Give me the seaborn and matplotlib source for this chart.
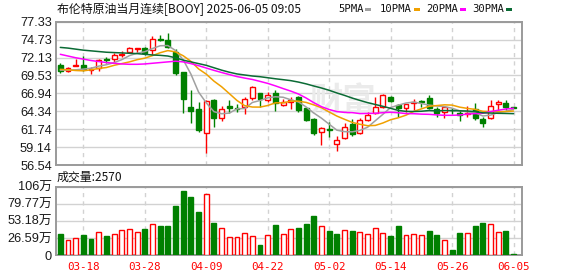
import numpy as np
import pandas as pd
import matplotlib
matplotlib.use("Agg")
import matplotlib.pyplot as plt
from matplotlib.patches import Rectangle
import seaborn as sns

# ---------------- data ----------------
title = "布伦特原油当月连续[BOOY] 2025-06-05 09:05"
vol_title = "成交量:2570"
legend_names = ["5PMA", "10PMA", "20PMA", "30PMA"]
date_ticks = ["03-18", "03-28", "04-09", "04-22", "05-02", "05-14", "05-26", "06-05"]
price_ticks = [77.33, 74.73, 72.13, 69.53, 66.94, 64.34, 61.74, 59.14, 56.54]
vol_tick_vals = [0, 26.59, 53.18, 79.77, 106]
vol_tick_labels = ["0", "26.59万", "53.18万", "79.77万", "106万"]

opens = [71.05, 70.23, 70.93, 71.05, 70.32, 70.57, 71.87, 71.87, 72.50, 72.89,
         73.42, 73.47, 73.22, 74.77, 74.67, 72.89, 70.08, 64.91, 64.66, 61.23,
         65.97, 63.31, 65.05, 64.81, 64.91, 66.21, 66.94, 65.97, 67.04, 65.25,
         65.73, 66.36, 64.86, 63.26, 61.28, 61.81, 59.59, 60.41, 62.49, 61.13,
         63.07, 64.13, 64.91, 66.45, 65.29, 64.76, 65.54, 65.78, 66.21, 64.62,
         64.28, 64.57, 64.04, 63.94, 64.62, 63.26, 63.31, 65.34, 65.49, 64.92]
highs = [71.39, 70.81, 71.87, 72.35, 70.81, 71.92, 72.16, 72.74, 73.08, 73.71,
         73.47, 73.71, 75.28, 75.40, 75.64, 73.32, 70.08, 67.42, 65.73, 65.97,
         66.07, 65.10, 66.00, 65.39, 66.36, 68.00, 67.04, 67.18, 67.42, 66.07,
         66.36, 66.55, 64.95, 63.30, 62.10, 62.83, 60.75, 62.68, 63.17, 63.31,
         64.23, 66.36, 66.84, 66.55, 65.39, 65.45, 66.11, 65.97, 66.70, 64.91,
         65.10, 64.86, 64.52, 65.10, 65.58, 63.55, 65.97, 65.97, 65.97, 64.95]
lows = [69.84, 70.08, 70.85, 70.23, 69.69, 70.23, 71.39, 71.53, 72.16, 72.74,
        72.74, 72.55, 72.50, 74.58, 73.47, 69.60, 64.13, 62.59, 61.38, 58.33,
        62.10, 62.92, 64.04, 64.28, 63.89, 65.97, 65.00, 65.73, 64.42, 65.10,
        64.62, 64.28, 62.97, 60.89, 59.44, 60.65, 58.57, 60.26, 60.75, 61.04,
        62.97, 63.94, 64.76, 65.73, 63.55, 64.28, 64.52, 64.91, 64.62, 63.55,
        63.41, 63.94, 62.97, 63.55, 63.07, 62.10, 63.17, 64.52, 64.52, 64.85]
closes = [70.23, 70.66, 71.00, 70.47, 70.52, 71.73, 71.73, 72.50, 72.64, 73.47,
          73.47, 72.84, 74.77, 74.67, 73.61, 69.84, 66.11, 64.42, 61.62, 65.83,
          63.41, 64.62, 64.86, 64.71, 66.07, 67.81, 66.07, 66.74, 65.49, 65.73,
          65.97, 64.52, 63.07, 61.13, 61.96, 61.62, 60.17, 62.01, 60.99, 63.07,
          63.84, 64.91, 66.70, 65.87, 64.76, 65.39, 65.63, 65.63, 64.76, 64.13,
          64.91, 64.47, 63.75, 64.04, 63.41, 62.58, 65.10, 65.63, 64.91, 64.88]
volumes = [32.9, 23.7, 26.2, 31.4, 25.2, 35.5, 29.8, 32.4, 38.6, 40.1,
           35.5, 40.6, 48.4, 45.3, 45.3, 76.2, 99.3, 90.6, 66.9, 94.7,
           50.4, 41.7, 27.8, 27.8, 34.0, 29.8, 16.0, 31.4, 46.8, 32.9,
           40.1, 42.2, 48.4, 60.7, 44.8, 37.6, 32.9, 38.6, 37.6, 35.5,
           32.9, 41.7, 34.0, 29.8, 45.3, 31.4, 32.9, 31.4, 37.6, 31.4,
           23.2, 8.2, 34.5, 34.5, 45.3, 49.9, 48.4, 36.0, 37.6, 1.5]
vol_up = [0, 1, 1, 0, 0, 1, 0, 1, 1, 1,
          1, 0, 1, 0, 0, 0, 0, 0, 0, 1,
          0, 1, 1, 1, 1, 1, 0, 1, 0, 1,
          1, 0, 0, 0, 1, 0, 0, 1, 0, 1,
          1, 1, 1, 0, 0, 1, 1, 1, 0, 0,
          1, 0, 0, 1, 0, 0, 1, 1, 0, 0]
ma5 = [70.30, 70.30, 70.35, 70.45, 70.58, 70.88, 71.09, 71.39, 71.82, 72.41,
       72.76, 72.98, 73.44, 73.84, 73.87, 73.15, 71.80, 69.73, 67.12, 65.56,
       64.28, 63.98, 64.07, 64.69, 64.73, 65.61, 65.90, 66.28, 66.44, 66.37,
       66.00, 65.69, 64.96, 64.08, 63.33, 62.46, 61.59, 61.38, 61.35, 61.57,
       62.02, 62.96, 63.90, 64.88, 65.22, 65.53, 65.67, 65.46, 65.23, 65.11,
       65.01, 64.78, 64.40, 64.26, 64.12, 63.65, 63.78, 64.15, 64.33, 64.62]
ma10 = [70.42, 70.35, 70.25, 70.20, 70.35, 70.55, 70.68, 71.00, 71.25, 71.50,
        71.82, 72.04, 72.41, 72.83, 73.14, 72.95, 72.39, 71.58, 70.48, 69.72,
        68.71, 67.89, 66.90, 65.90, 65.15, 64.95, 64.94, 65.17, 65.56, 65.55,
        65.81, 65.80, 65.62, 65.26, 64.85, 64.23, 63.64, 63.17, 62.72, 62.45,
        62.24, 62.28, 62.64, 63.11, 63.39, 63.77, 64.32, 64.68, 65.06, 65.16,
        65.27, 65.23, 64.93, 64.75, 64.61, 64.33, 64.28, 64.28, 64.29, 64.37]
ma20 = [72.60, 72.35, 72.10, 71.90, 71.70, 71.55, 71.40, 71.30, 71.20, 71.15,
        71.15, 71.20, 71.30, 71.40, 71.50, 71.60, 71.50, 71.25, 70.95, 70.61,
        70.27, 69.96, 69.66, 69.37, 69.15, 68.95, 68.67, 68.38, 68.02, 67.63,
        67.26, 66.84, 66.26, 65.58, 65.00, 64.59, 64.29, 64.17, 64.14, 64.00,
        64.02, 64.04, 64.13, 64.19, 64.12, 64.00, 63.98, 63.92, 63.89, 63.81,
        63.75, 63.75, 63.79, 63.93, 64.00, 64.05, 64.30, 64.48, 64.67, 64.77]
ma30 = [73.60, 73.50, 73.35, 73.20, 73.10, 73.00, 72.90, 72.85, 72.80, 72.75,
        72.70, 72.60, 72.50, 72.45, 72.35, 72.10, 71.75, 71.50, 71.25, 71.00,
        70.65, 70.30, 70.00, 69.75, 69.60, 69.45, 69.35, 69.20, 69.05, 68.92,
        68.78, 68.57, 68.31, 68.00, 67.71, 67.38, 66.99, 66.64, 66.25, 65.91,
        65.59, 65.32, 65.05, 64.76, 64.46, 64.32, 64.30, 64.34, 64.44, 64.39,
        64.44, 64.43, 64.40, 64.37, 64.29, 64.11, 64.08, 64.04, 64.02, 63.99]

dates = pd.bdate_range("2025-03-13", "2025-06-05").drop(pd.Timestamp("2025-04-18"))
date_str = list(dates.strftime("%m-%d"))

# ---------------- style ----------------
RED = "#ff0000"
GREEN = "#008000"
MA_COLORS = ["#a0a0a0", "#f0a000", "#ff00ff", "#0b6b35"]
GRID = "#d2d2d2"
FRAME = "#9a9a9a"
TXT = "#1a1a1a"

sns.set_theme(style="white")
plt.rcParams["font.family"] = ["Liberation Sans", "Noto Sans CJK SC", "DejaVu Sans"]

W, H = 578, 276
fig = plt.figure(figsize=(W / 100, H / 100), dpi=100)


def fx(px):
    return px / W


def fy(py):
    return 1 - py / H


ax1 = fig.add_axes([fx(56), fy(165), (522 - 56) / W, (165 - 21.7) / H])
ax2 = fig.add_axes([fx(56), fy(255.3), (522 - 56) / W, (255.3 - 186.7) / H])

n = len(closes)
df = pd.DataFrame({"idx": np.arange(n), "open": opens, "high": highs, "low": lows,
                   "close": closes, "vol": volumes, "vup": vol_up,
                   "ma5": ma5, "ma10": ma10, "ma20": ma20, "ma30": ma30})

bw = 0.64
# candles
for r in df.itertuples():
    up = r.close >= r.open
    col = RED if up else GREEN
    ax1.vlines(r.idx, r.low, r.high, color=col, lw=1.0, zorder=3)
    bottom = min(r.open, r.close)
    height = max(abs(r.close - r.open), 0.06)
    ax1.add_patch(Rectangle((r.idx - bw / 2, bottom), bw, height,
                            facecolor="white" if up else col, edgecolor=col,
                            lw=1.0, zorder=4))

# moving averages
for name, col in zip(["ma5", "ma10", "ma20", "ma30"], MA_COLORS):
    sns.lineplot(data=df, x="idx", y=name, ax=ax1, color=col, lw=1.1, zorder=5)

# volume bars
for r in df.itertuples():
    col = RED if r.vup else GREEN
    ax2.bar(r.idx, r.vol, width=bw, facecolor="white" if r.vup else col,
            edgecolor=col, lw=1.0, zorder=3)

tick_pos = [date_str.index(d) for d in date_ticks]

for ax in (ax1, ax2):
    ax.set_xlim(-0.56, 60.1)
    ax.set_xlabel("")
    ax.set_ylabel("")
    ax.set_xticks(tick_pos)
    ax.set_axisbelow(True)
    ax.yaxis.grid(True, color=GRID, lw=1.0, ls="-")
    ax.xaxis.grid(True, color=GRID, lw=1.0, ls=(0, (3, 3)))
    for s in ax.spines.values():
        s.set_color(FRAME)
        s.set_linewidth(1.4)
    ax.tick_params(axis="both", length=0, pad=3)

ax1.set_ylim(price_ticks[-1], price_ticks[0])
ax1.set_yticks(price_ticks)
ax1.set_yticklabels([f"{v:.2f}" for v in price_ticks], fontsize=9.2, color=TXT)
ax1.set_xticklabels([])

ax2.set_ylim(0, vol_tick_vals[-1])
ax2.set_yticks(vol_tick_vals)
ax2.set_yticklabels(vol_tick_labels, fontsize=9.2, color=TXT)
ax2.set_xticklabels(date_ticks, fontsize=7.8, color=RED, family="DejaVu Sans Mono")
ax2.tick_params(axis="x", pad=5)

# watermark
ax1.text(0.615, 0.44, "财富", transform=ax1.transAxes, fontsize=24, color="#ebebeb",
         ha="center", va="center", family="Noto Sans CJK SC", fontweight="bold", zorder=1)

# titles
fig.text(fx(57), fy(10), title, fontsize=8.6, color="#111111", va="center", ha="left",
         family=["Noto Sans CJK SC", "DejaVu Sans"])
fig.text(fx(57), fy(177), vol_title, fontsize=8.6, color="#111111", va="center", ha="left",
         family=["Noto Sans CJK SC", "DejaVu Sans"])

# legend
leg_text_x = [338, 380, 426, 472]
leg_patch_x = [365, 414, 460, 506]
for name, col, tx, px in zip(legend_names, MA_COLORS, leg_text_x, leg_patch_x):
    fig.text(fx(tx), fy(9.5), name, fontsize=7.6, color="#111111", va="center",
             ha="left", family="DejaVu Sans Mono")
    fig.add_artist(Rectangle((fx(px), fy(11)), 6 / W, 3 / H, transform=fig.transFigure,
                             facecolor=col, edgecolor="none"))

fig.savefig("out.png", dpi=100, facecolor="white")
